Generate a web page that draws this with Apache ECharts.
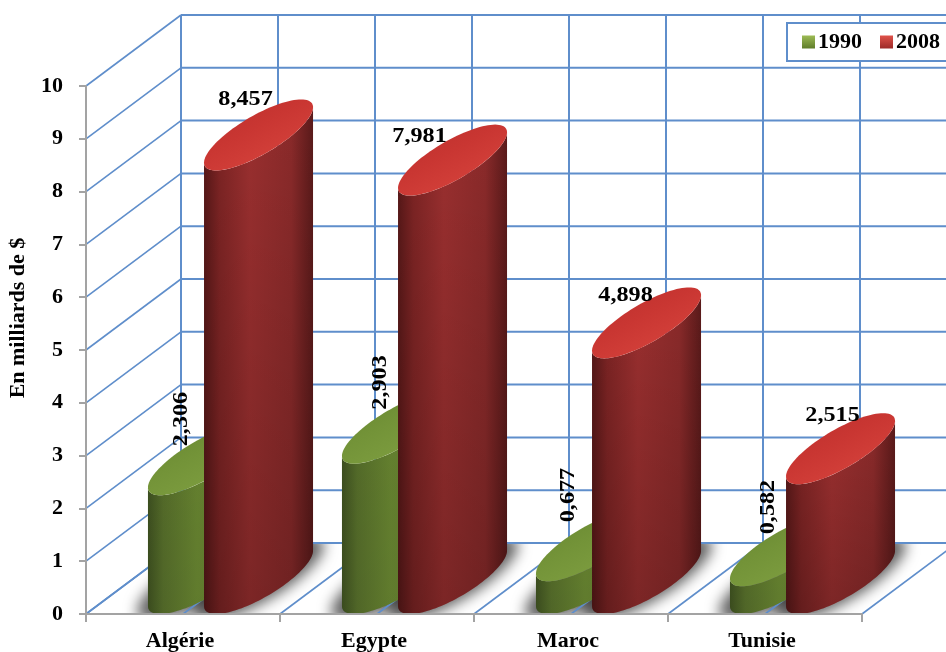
<!DOCTYPE html>
<html>
<head>
<meta charset="utf-8">
<script src="https://cdn.jsdelivr.net/npm/echarts@6/dist/echarts.min.js"></script>
<style>html,body{margin:0;padding:0;background:#fff}#c{width:946px;height:652px}</style>
</head>
<body>
<div id="c"></div>
<script>
const categories = ['Algérie', 'Egypte', 'Maroc', 'Tunisie'];
const values1990 = [2.306, 2.903, 0.677, 0.582];
const values2008 = [8.457, 7.981, 4.898, 2.515];
const yTicks = [0, 1, 2, 3, 4, 5, 6, 7, 8, 9, 10];
const halfCategorySteps = [0, 1, 2, 3, 4, 5, 6, 7, 8];
const axisTitle = 'En milliards de $';

// layout/styling constants (pixels), not data
const DEPTH_X = 95, DEPTH_Y = -71;
const BAR_RATIO = 0.289;         // bar slot as a share of the category
const ELL_A = 34, ELL_B = 42.6;  // skewed ellipse half axes of a cylinder cap
const CAP_DROP = 3;              // the picture's caps sit a little under the value
const SHADOW_SCALE = 1.2, SHADOW_OFF = 2000;
const SERIF = '"Liberation Serif","DejaVu Serif",serif';
const GRID_BLUE = '#5f8ecb';
const label1990Nudge = [[-21, -46], [-16, -51], [-22, -56], [-16, -49]];
const label2008Nudge = [[-13, -68], [-33, -56], [-21, -60], [-8, -66]];

const grad = (stops, x2, y2) => new echarts.graphic.LinearGradient(0, 0, x2, y2,
  stops.map(s => ({offset: s[0], color: s[1]})));

const PAL = {
  g: {body: [[0, '#3c4e1f'], [0.14, '#536a29'], [0.45, '#64802f'], [0.85, '#5e782d'], [1, '#45581f']],
      shade: 0.04,
      cap: [[0, '#64832f'], [0.6, '#739338'], [1, '#7b9b3e']],
      legend: [[0, '#9dbb55'], [1, '#5f7d2a']]},
  r: {body: [[0, '#571818'], [0.14, '#7d2424'], [0.42, '#9a2f2f'], [0.8, '#8a2a2a'], [1, '#5a1a1a']],
      shade: 0.2,
      cap: [[0, '#b92e2c'], [0.6, '#c93632'], [1, '#d23f39']],
      legend: [[0, '#e0524a'], [1, '#9c2a28']]}
};

function ellipsePts(cx, cy, from, to, n, scale) {
  const k = scale || 1, pts = [];
  for (let i = 0; i <= n; i++) {
    const t = from + (to - from) * i / n;
    pts.push([cx + k * (Math.cos(t) * ELL_A + Math.sin(t) * ELL_B),
              cy + k * Math.sin(t) * DEPTH_Y / 2]);
  }
  return pts;
}

function barRender(sign, pal, nudges) {
  return function (params, api) {
    const idx = api.value(0), val = api.value(1);
    const top = api.coord([idx, val]), base = api.coord([idx, 0]);
    const catW = api.size([1, 0])[0];
    const w = catW * BAR_RATIO;
    const cx = top[0] + sign * w / 2 + DEPTH_X / 2;
    const yTop = top[1] + DEPTH_Y / 2 + CAP_DROP, yBase = base[1] + DEPTH_Y / 2;
    const t0 = Math.atan2(ELL_B, ELL_A);        // parameter of right silhouette point
    const lower = ellipsePts(cx, yBase, t0, t0 - Math.PI, 60);  // right -> front -> left
    const upperFront = ellipsePts(cx, yTop, t0 - Math.PI, t0, 60);
    const cap = ellipsePts(cx, yTop, 0, 2 * Math.PI, 100);
    const n = nudges[idx];
    const text = val.toFixed(3).replace('.', ',');
    const isVertical = sign < 0;
    const bodyPts = lower.concat(upperFront);
    return {
      type: 'group',
      children: [
        {type: 'polygon', shape: {points: bodyPts}, style: {fill: grad(pal.body, 1, 0)}},
        {type: 'polygon', shape: {points: bodyPts},
         style: {fill: grad([[0, 'rgba(0,0,0,0)'], [1, 'rgba(0,0,0,' + pal.shade + ')']], 0, 1)}},
        {type: 'polygon', shape: {points: cap}, style: {fill: grad(pal.cap, 0.35, 1)}},
        {type: 'text', x: cx + n[0], y: top[1] + n[1], rotation: isVertical ? Math.PI / 2 : 0, scaleX: 1.1,
         style: {text, fill: '#000', font: 'bold 22px ' + SERIF,
                 align: isVertical ? 'left' : 'center', verticalAlign: 'middle'}}
      ]
    };
  };
}

const option = {
  animation: false,
  backgroundColor: '#fff',
  grid: {left: 86, right: 84, top: 86, bottom: 37},
  legend: {
    left: 787, top: 23, width: 400, orient: 'horizontal',
    padding: [8, 40, 8, 15], itemGap: 18, itemWidth: 13, itemHeight: 13,
    backgroundColor: '#fff', borderColor: GRID_BLUE, borderWidth: 2, borderRadius: 0,
    textStyle: {fontFamily: SERIF, fontWeight: 'bold', fontSize: 22, color: '#000', padding: [0, 0, 0, -2]},
    data: [
      {name: '1990', icon: 'rect', itemStyle: {color: grad(PAL.g.legend, 0, 1)}},
      {name: '2008', icon: 'rect', itemStyle: {color: grad(PAL.r.legend, 0, 1)}}
    ]
  },
  xAxis: {
    type: 'category', data: categories, z: 6,
    axisLine: {lineStyle: {color: '#a3a3a3', width: 2}},
    axisTick: {show: true, length: 8, lineStyle: {color: '#a3a3a3', width: 2}},
    axisLabel: {margin: 16, padding: [0, 6, 0, 0], color: '#000', fontFamily: SERIF, fontWeight: 'bold', fontSize: 22},
    splitLine: {show: false}
  },
  yAxis: {
    type: 'value', min: 0, max: 10, interval: 1, z: 6,
    axisLine: {show: true, lineStyle: {color: '#a3a3a3', width: 2}},
    axisTick: {show: true, length: 7, lineStyle: {color: '#a3a3a3', width: 2}},
    axisLabel: {margin: 23, padding: [4, 0, 0, 0], color: '#000', fontFamily: SERIF, fontWeight: 'bold', fontSize: 22},
    splitLine: {show: false}
  },
  graphic: [{
    type: 'text', x: 19, y: 318, rotation: Math.PI / 2, scaleX: 1.1, z: 100,
    style: {text: axisTitle, fill: '#000', font: 'bold 20px ' + SERIF, align: 'center', verticalAlign: 'middle'}
  }],
  series: [
    { // floor shadows: the caster sits off-canvas, only its blurred shadow lands on the floor
      type: 'custom', silent: true, z: 1,
      data: categories.map((c, i) => [i, 0]),
      renderItem(params, api) {
        const idx = api.value(0);
        const base = api.coord([idx, 0]);
        const catW = api.size([1, 0])[0], w = catW * BAR_RATIO;
        const yBase = base[1] + DEPTH_Y / 2;
        const shadow = s => ({
          type: 'polygon',
          shape: {points: ellipsePts(base[0] + s * w / 2 + DEPTH_X / 2 - SHADOW_OFF, yBase, 0, 2 * Math.PI, 80, SHADOW_SCALE)},
          style: {fill: '#000', shadowBlur: 14, shadowOffsetX: SHADOW_OFF, shadowColor: 'rgba(0,0,0,0.62)'}
        });
        return {type: 'group', children: [shadow(-1), shadow(1)]};
      }
    },
    { // walls and floor, masking whatever shadow spills past the floor
      type: 'custom', silent: true, z: 2,
      data: [[0, 0]],
      renderItem(params, api) {
        const o = api.coord([0, 0]), topC = api.coord([0, 10]);
        const catW = api.size([1, 0])[0];
        const x0 = o[0] - catW / 2, y0 = o[1];
        const yTop = topC[1];
        const line = (a, b, c, d, lw) => ({type: 'line', shape: {x1: a, y1: b, x2: c, y2: d},
          style: {stroke: GRID_BLUE, lineWidth: lw, fill: null}});
        const kids = [
          {type: 'rect', shape: {x: 87, y: 0, width: 860, height: y0 + DEPTH_Y}, style: {fill: '#fff'}},
          {type: 'rect', shape: {x: 87, y: y0, width: 860, height: 60}, style: {fill: '#fff'}}
        ];
        yTicks.forEach(v => {
          const y = api.coord([0, v])[1];
          kids.push(line(x0, y, x0 + DEPTH_X, y + DEPTH_Y, 1.6));
          kids.push(line(x0 + DEPTH_X, y + DEPTH_Y, 960, y + DEPTH_Y, 2));
        });
        halfCategorySteps.forEach(k => {
          const x = x0 + k * catW / 2;
          kids.push(line(x + DEPTH_X, yTop + DEPTH_Y, x + DEPTH_X, y0 + DEPTH_Y, 2));
          kids.push(line(x, y0, x + DEPTH_X, y0 + DEPTH_Y, 1.6));
        });
        return {type: 'group', children: kids};
      }
    },
    {name: '1990', type: 'custom', z: 3, silent: true,
     data: values1990.map((v, i) => [i, v]), encode: {x: 0, y: 1},
     renderItem: barRender(-1, PAL.g, label1990Nudge)},
    {name: '2008', type: 'custom', z: 4, silent: true,
     data: values2008.map((v, i) => [i, v]), encode: {x: 0, y: 1},
     renderItem: barRender(1, PAL.r, label2008Nudge)}
  ]
};
const chart = echarts.init(document.getElementById('c'), null, {renderer: 'canvas'});
chart.setOption(option);
</script>
</body>
</html>
